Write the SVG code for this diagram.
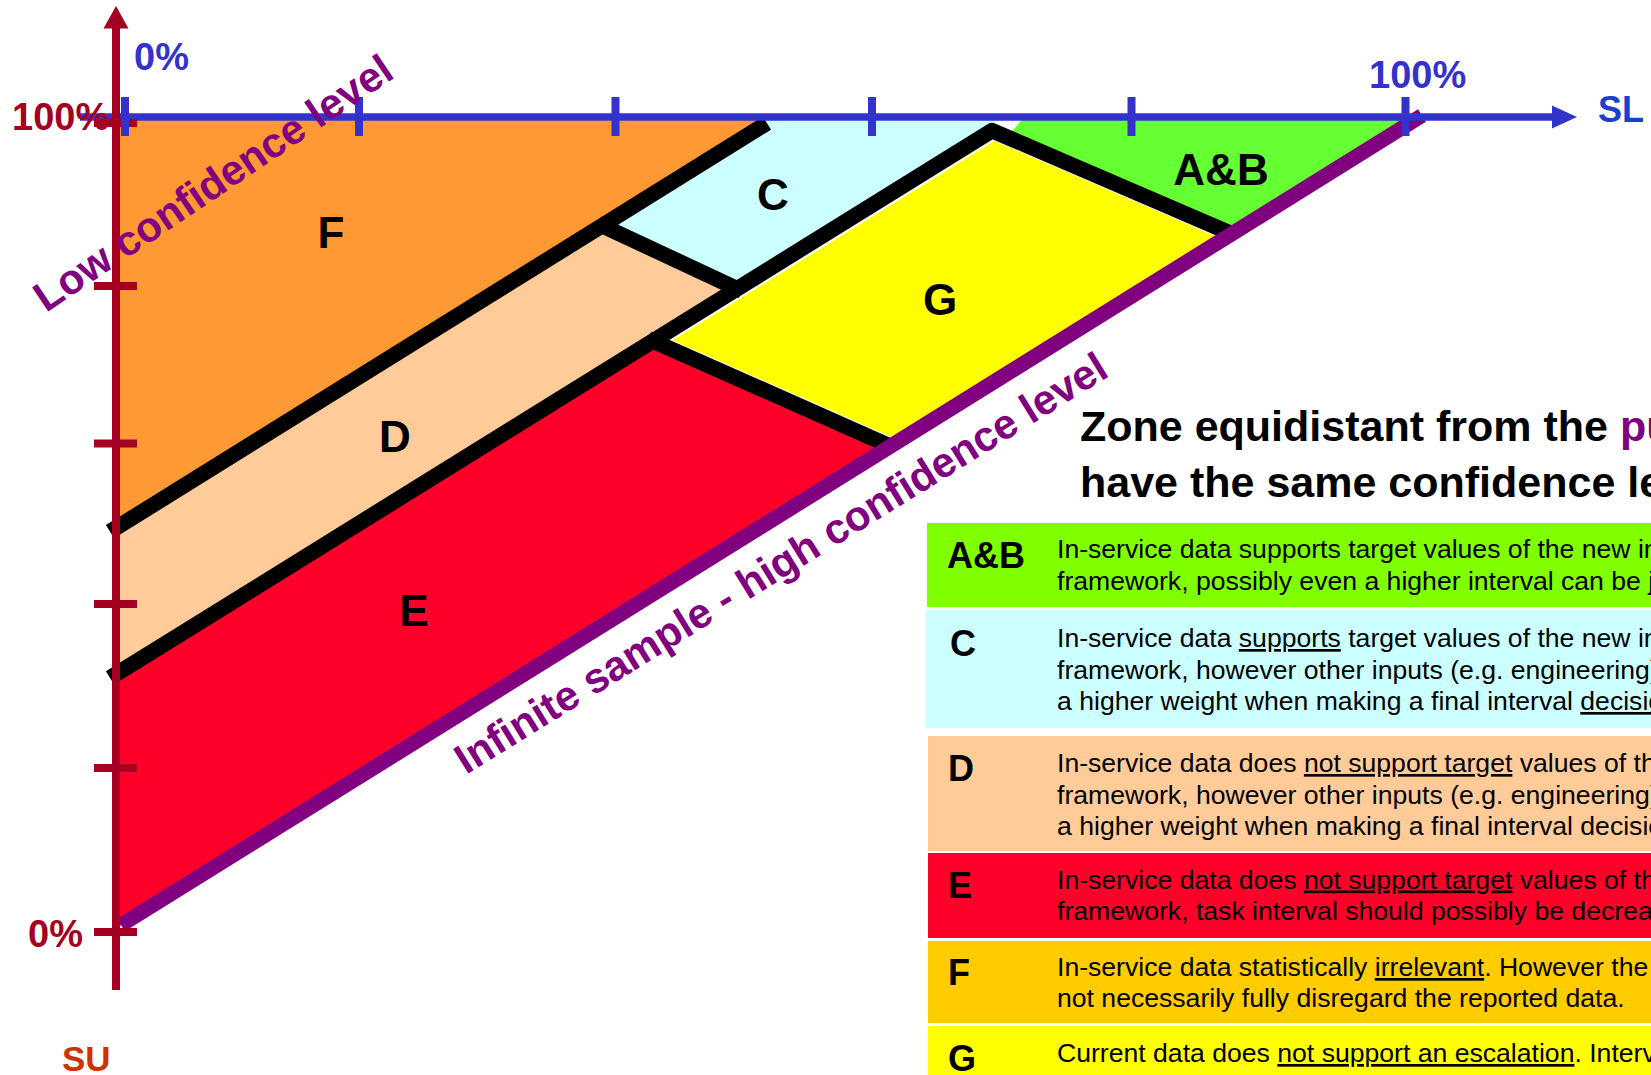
<svg xmlns="http://www.w3.org/2000/svg" width="1651" height="1075" viewBox="0 0 1651 1075">
<defs>
<style>
text { font-family: "Liberation Sans", Arial, sans-serif; }
.zl { font-size: 44px; font-weight: bold; fill: #000; text-anchor: middle; }
.bl { stroke: #000; stroke-width: 15.5; fill: none; stroke-linejoin: round; }
.lg { font-size: 26.6px; fill: #000; }
.ll { font-size: 36px; font-weight: bold; fill: #000; }
.u { text-decoration: underline; }
.axr { stroke: #A50021; stroke-width: 8; fill: none; }
.axb { stroke: #3333CC; stroke-width: 7.5; fill: none; }
.tkb { stroke: #3333CC; stroke-width: 8; }
.tkr { stroke: #A50021; stroke-width: 8; }
.pct { font-size: 38px; font-weight: bold; }
.diag { font-size: 42px; font-weight: bold; fill: #800080; }
.ttl { font-size: 43px; font-weight: bold; fill: #000; }
</style>
</defs>
<rect x="0" y="0" width="1651" height="1075" fill="#FFFFFF"/>

<g id="chart-zones">
  <g id="zone-F">
    <polygon points="120,117 764,117 120,530" fill="#FF9933"/>
    <text class="zl" x="331" y="248">F</text>
  </g>
  <g id="zone-C">
    <polygon points="762,117 998,117 992,131 737,289 603,226" fill="#CCFFFF"/>
    <text class="zl" x="773" y="210">C</text>
  </g>
  <g id="zone-D">
    <polygon points="120,526 603,226 737,289 120,673" fill="#FFCC99"/>
    <text class="zl" x="395" y="452">D</text>
  </g>
  <g id="zone-E">
    <polygon points="120,671 653,341 890,446 120,926" fill="#FF0028"/>
    <text class="zl" x="414" y="626">E</text>
  </g>
  <g id="zone-G">
    <polygon points="992,140 1223,239.5 899,440.5 670.8,339.4" fill="#FFFF00"/>
    <line x1="668" y1="342" x2="994" y2="140" stroke="#FFFFFF" stroke-width="2"/>
    <text class="zl" x="940" y="315">G</text>
  </g>
  <g id="zone-AB">
    <polygon points="1024,117 1412,117 1232,234 1008,136" fill="#66FF33"/>
    <text class="zl" x="1221" y="185">A&amp;B</text>
  </g>
</g>

<g id="connectors">
  <line class="bl" x1="110" y1="531.7" x2="767" y2="123.1"/>
  <line class="bl" x1="598" y1="223.7" x2="742" y2="291"/>
  <polyline class="bl" points="110,677.9 992,130.6 1232,233.8"/>
  <line class="bl" x1="648" y1="338.8" x2="894" y2="447.8"/>
  <line x1="121" y1="925" x2="1422" y2="115.5" stroke="#800080" stroke-width="15"/>
</g>

<g id="axis-SL">
  <line class="axb" x1="80" y1="117" x2="1556" y2="117"/>
  <polygon points="1577,117 1552,105.5 1552,128.5" fill="#3333CC"/>
  <text x="1598" y="122" font-size="36" font-weight="bold" fill="#1A3FCC">SL</text>
  <text class="pct" x="134" y="70" fill="#3333CC">0%</text>
  <text class="pct" x="1369" y="88" fill="#3333CC">100%</text>
</g>

<g id="axis-SU">
  <text class="pct" x="12" y="130" fill="#A50021">100%</text>
  <text class="pct" x="28" y="947" fill="#A50021">0%</text>
  <line class="axr" x1="116" y1="26" x2="116" y2="990"/>
  <polygon points="116,6 103.5,28.5 128.5,28.5" fill="#A50021"/>
  <line class="tkr" x1="94" y1="123" x2="137" y2="123"/>
  <line class="tkr" x1="94" y1="286" x2="137" y2="286"/>
  <line class="tkr" x1="94" y1="443.5" x2="137" y2="443.5"/>
  <line class="tkr" x1="94" y1="604" x2="137" y2="604"/>
  <line class="tkr" x1="94" y1="768" x2="137" y2="768"/>
  <line class="tkr" x1="94" y1="932" x2="137" y2="932"/>
  <text x="62" y="1071" font-size="35" font-weight="bold" fill="#CC3300">SU</text>
</g>

<g id="axis-SL-ticks">
  <line class="tkb" x1="125" y1="97" x2="125" y2="136"/>
  <line class="tkb" x1="359" y1="97" x2="359" y2="136"/>
  <line class="tkb" x1="615.5" y1="97" x2="615.5" y2="136"/>
  <line class="tkb" x1="872" y1="97" x2="872" y2="136"/>
  <line class="tkb" x1="1131.5" y1="97" x2="1131.5" y2="136"/>
  <line class="tkb" x1="1405.5" y1="97" x2="1405.5" y2="136"/>
</g>

<g id="diagonal-labels">
  <text class="diag" transform="translate(46,313) rotate(-34)">Low confidence level</text>
  <text class="diag" font-size="43.6" transform="translate(466,775) rotate(-31.8)">Infinite sample - high confidence level</text>
</g>

<g id="title">
  <text class="ttl" x="1080" y="441">Zone equidistant from the <tspan fill="#800080">pu</tspan></text>
  <text class="ttl" x="1080" y="497">have the same confidence le</text>
</g>

<g id="legend">
  <g id="legend-AB">
    <rect x="927" y="523" width="724" height="84" fill="#80FF00"/>
    <text class="ll" x="947" y="568">A&amp;B</text>
    <text class="lg" x="1057" y="558">In-service data supports target values of the new in</text>
    <text class="lg" x="1057" y="590">framework, possibly even a higher interval can be <tspan class="u">j</tspan></text>
  </g>
  <g id="legend-C">
    <rect x="926" y="610" width="725" height="118" fill="#CCFFFF"/>
    <text class="ll" x="950" y="656">C</text>
    <text class="lg" x="1057" y="647">In-service data <tspan class="u">supports</tspan> target values of the new in</text>
    <text class="lg" x="1057" y="678.5">framework, however other inputs (e.g. engineering)</text>
    <text class="lg" x="1057" y="710">a higher weight when making a final interval <tspan class="u">decisio</tspan></text>
  </g>
  <g id="legend-D">
    <rect x="928" y="736" width="723" height="115" fill="#FFCC99"/>
    <text class="ll" x="948" y="781">D</text>
    <text class="lg" x="1057" y="772">In-service data does <tspan class="u">not support target</tspan> values of th</text>
    <text class="lg" x="1057" y="803.5">framework, however other inputs (e.g. engineering)</text>
    <text class="lg" x="1057" y="835">a higher weight when making a final interval decisio</text>
  </g>
  <g id="legend-E">
    <rect x="928" y="853" width="723" height="85" fill="#FF0028"/>
    <text class="ll" x="948" y="898">E</text>
    <text class="lg" x="1057" y="888.5">In-service data does <tspan class="u">not support target</tspan> values of th</text>
    <text class="lg" x="1057" y="920">framework, task interval should possibly be decrea</text>
  </g>
  <g id="legend-F">
    <rect x="928" y="941" width="723" height="82" fill="#FFCC00"/>
    <text class="ll" x="948" y="985">F</text>
    <text class="lg" x="1057" y="976">In-service data statistically <tspan class="u">irrelevant</tspan>. However the</text>
    <text class="lg" x="1057" y="1007">not necessarily fully disregard the reported data.</text>
  </g>
  <g id="legend-G">
    <rect x="928" y="1026" width="723" height="60" fill="#FFFF00"/>
    <text class="ll" x="948" y="1071">G</text>
    <text class="lg" x="1057" y="1062">Current data does <tspan class="u">not support an escalation</tspan>. Interv</text>
  </g>
</g>
</svg>
